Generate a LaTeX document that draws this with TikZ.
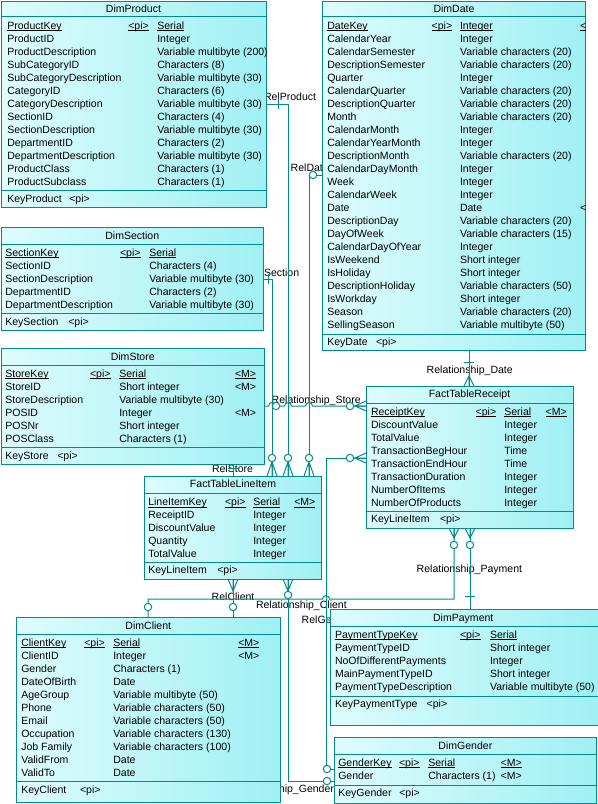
\documentclass[tikz,border=0pt]{standalone}
\usepackage{fontspec}
\setmainfont{Liberation Sans}
\usetikzlibrary{fit,backgrounds}
\definecolor{lc}{RGB}{0,140,140}
\definecolor{bl}{RGB}{222,252,252}
\definecolor{br}{RGB}{160,240,244}
\newcommand\fsz{\fontsize{7.9}{9.75}\selectfont}
\newcommand\ul[1]{\setbox0=\hbox{#1}\rlap{\rule[-1.3pt]{\wd0}{0.5pt}}\box0}
\tikzset{
 tbox/.style={draw=lc, line width=0.75pt, left color=bl, right color=br, inner sep=0pt, outer sep=0pt, rectangle},
 cell/.style={font=\fsz, inner sep=0pt, outer sep=0pt, anchor=base west, text=black},
 ttl/.style={font=\fsz, inner sep=0pt, outer sep=0pt, anchor=base, text=black},
 conn/.style={draw=lc, line width=0.75pt},
 sepl/.style={draw=lc, line width=0.75pt},
 ocirc/.style={draw=lc, line width=0.75pt, fill=white},
}
\newcommand\Col[4]{\foreach \tx [count=\i] in {#4} {\node[cell] (#1\i) at (#2,#3+3.5+13*\i-13) {\ifnum\i=1 \ul{\tx}\else\tx\fi};}}
\newcommand\CrowV[3]{\draw[conn] (#1-5,#3) -- (#1,#2) -- (#1+5,#3) (#1,#2) -- (#1,#3);}
\newcommand\CrowH[3]{\draw[conn] (#3,#1-5) -- (#2,#1) -- (#3,#1+5) (#2,#1) -- (#3,#1);}
\newcommand\Circ[2]{\draw[ocirc] (#1,#2) circle[radius=3.7];}
\newcommand\TickV[2]{\draw[conn] (#1-5,#2) -- (#1+5,#2);}
\newcommand\TickH[2]{\draw[conn] (#1,#2-5) -- (#1,#2+5);}
\begin{document}
\begin{tikzpicture}[x=0.75pt,y=-0.75pt]
\useasboundingbox (0,0) rectangle (597,804);

% ---------- DimProduct
\node[tbox, fit={(1,1) (266,207.5)}] (prod) {};
\draw[sepl] (prod.west |- 0,16) -- (prod.east |- 0,16);
\draw[sepl] (prod.west |- 0,190.7) -- (prod.east |- 0,190.7);
\begin{scope}
\clip (prod.north west) rectangle (prod.south east);
\node[ttl] (prodT) at (133.5,12.5) {DimProduct};
\Col{prodN}{7.3}{25.7}{ProductKey,ProductID,ProductDescription,SubCategoryID,SubCategoryDescription,CategoryID,CategoryDescription,SectionID,SectionDescription,DepartmentID,DepartmentDescription,ProductClass,ProductSubclass}
\node[cell] (prodP) at (128.3,29.2) {\ul{<pi>}};
\Col{prodY}{157.3}{25.7}{Serial,Integer,Variable multibyte (200),Characters (8),Variable multibyte (30),Characters (6),Variable multibyte (30),Characters (4),Variable multibyte (30),Characters (2),Variable multibyte (30),Characters (1),Characters (1)}
\node[cell] (prodK) at (7.3,202.5) {KeyProduct};
\node[cell] (prodKP) at (69.3,202.5) {<pi>};
\end{scope}

% ---------- DimDate
\node[tbox, fit={(322.5,1) (585.5,350)}] (date) {};
\draw[sepl] (date.west |- 0,16.5) -- (date.east |- 0,16.5);
\draw[sepl] (date.west |- 0,334) -- (date.east |- 0,334);
\node[ttl] (dateT) at (454,12.5) {DimDate};
\Col{dateN}{327.3}{25.7}{DateKey,CalendarYear,CalendarSemester,DescriptionSemester,Quarter,CalendarQuarter,DescriptionQuarter,Month,CalendarMonth,CalendarYearMonth,DescriptionMonth,CalendarDayMonth,Week,CalendarWeek,Date,DescriptionDay,DayOfWeek,CalendarDayOfYear,IsWeekend,IsHoliday,DescriptionHoliday,IsWorkday,Season,SellingSeason}
\node[cell] (dateP) at (431.7,29.2) {\ul{<pi>}};
\Col{dateY}{460}{25.7}{Integer,Integer,Variable characters (20),Variable characters (20),Integer,Variable characters (20),Variable characters (20),Variable characters (20),Integer,Integer,Variable characters (20),Integer,Integer,Integer,Date,Variable characters (20),Variable characters (15),Integer,Short integer,Short integer,Variable characters (50),Short integer,Variable characters (20),Variable multibyte (50)}
\node[cell] (dateM1) at (580,29.2) {\ul{<}};
\node[cell] (dateM2) at (580,211.2) {<};
\node[cell] (dateK) at (327.3,345.2) {KeyDate};
\node[cell] (dateKP) at (376,345.2) {<pi>};

% ---------- DimSection
\node[tbox, fit={(1,227.5) (263.5,330)}] (sect) {};
\draw[sepl] (sect.west |- 0,244) -- (sect.east |- 0,244);
\draw[sepl] (sect.west |- 0,313) -- (sect.east |- 0,313);
\node[ttl] (sectT) at (132.25,239.2) {DimSection};
\Col{sectN}{5.3}{252.7}{SectionKey,SectionID,SectionDescription,DepartmentID,DepartmentDescription}
\node[cell] (sectP) at (120,256.2) {\ul{<pi>}};
\Col{sectY}{149.3}{252.7}{Serial,Characters (4),Variable multibyte (30),Characters (2),Variable multibyte (30)}
\node[cell] (sectK) at (5.3,325.2) {KeySection};
\node[cell] (sectKP) at (68.3,325.2) {<pi>};

% ---------- DimStore
\node[tbox, fit={(1,348.5) (264.5,464)}] (store) {};
\draw[sepl] (store.west |- 0,365.7) -- (store.east |- 0,365.7);
\draw[sepl] (store.west |- 0,447.7) -- (store.east |- 0,447.7);
\node[ttl] (storeT) at (132.75,360.2) {DimStore};
\Col{storeN}{5.3}{373.7}{StoreKey,StoreID,StoreDescription,POSID,POSNr,POSClass}
\node[cell] (storeP) at (90,377.2) {\ul{<pi>}};
\Col{storeY}{119.3}{373.7}{Serial,Short integer,Variable multibyte (30),Integer,Short integer,Characters (1)}
\node[cell] (storeM1) at (235,377.2) {\ul{<M>}};
\node[cell] (storeM2) at (235,390.2) {<M>};
\node[cell] (storeM4) at (235,416.2) {<M>};
\node[cell] (storeK) at (5.3,459.2) {KeyStore};
\node[cell] (storeKP) at (57.3,459.2) {<pi>};

% ---------- FactTableReceipt
\node[tbox, fit={(366,386) (573,528.3)}] (rcpt) {};
\draw[sepl] (rcpt.west |- 0,403.3) -- (rcpt.east |- 0,403.3);
\draw[sepl] (rcpt.west |- 0,511.7) -- (rcpt.east |- 0,511.7);
\node[ttl] (rcptT) at (469.5,397.8) {FactTableReceipt};
\Col{rcptN}{371}{411.7}{ReceiptKey,DiscountValue,TotalValue,TransactionBegHour,TransactionEndHour,TransactionDuration,NumberOfItems,NumberOfProducts}
\node[cell] (rcptP) at (475.7,415.2) {\ul{<pi>}};
\Col{rcptY}{504.3}{411.7}{Serial,Integer,Integer,Time,Time,Integer,Integer,Integer}
\node[cell] (rcptM1) at (545.7,415.2) {\ul{<M>}};
\node[cell] (rcptK) at (371,522.8) {KeyLineItem};
\node[cell] (rcptKP) at (440,522.8) {<pi>};

% ---------- FactTableLineItem
\node[tbox, fit={(144.3,476) (321.7,579)}] (line) {};
\draw[sepl] (line.west |- 0,493.3) -- (line.east |- 0,493.3);
\draw[sepl] (line.west |- 0,562.7) -- (line.east |- 0,562.7);
\node[ttl] (lineT) at (233,487.8) {FactTableLineItem};
\Col{lineN}{148.3}{502}{LineItemKey,ReceiptID,DiscountValue,Quantity,TotalValue}
\node[cell] (lineP) at (225,505.5) {\ul{<pi>}};
\Col{lineY}{253.3}{502}{Serial,Integer,Integer,Integer,Integer}
\node[cell] (lineM1) at (294.3,505.5) {\ul{<M>}};
\node[cell] (lineK) at (148.3,573.8) {KeyLineItem};
\node[cell] (lineKP) at (217.3,573.8) {<pi>};

% ---------- DimClient
\node[tbox, fit={(16.7,617.3) (280,802.5)}] (client) {};
\draw[sepl] (client.west |- 0,634.3) -- (client.east |- 0,634.3);
\draw[sepl] (client.west |- 0,781.7) -- (client.east |- 0,781.7);
\node[ttl] (clientT) at (148.3,629.2) {DimClient};
\Col{clientN}{21.3}{642.7}{ClientKey,ClientID,Gender,DateOfBirth,AgeGroup,Phone,Email,Occupation,Job Family,ValidFrom,ValidTo}
\node[cell] (clientP) at (84.3,646.2) {\ul{<pi>}};
\Col{clientY}{113.3}{642.7}{Serial,Integer,Characters (1),Date,Variable multibyte (50),Variable characters (50),Variable characters (50),Variable characters (130),Variable characters (100),Date,Date}
\node[cell] (clientM1) at (238.3,646.2) {\ul{<M>}};
\node[cell] (clientM2) at (238.3,659.2) {<M>};
\node[cell] (clientK) at (21.3,793.5) {KeyClient};
\node[cell] (clientKP) at (80,793.5) {<pi>};

% ---------- DimPayment
\node[tbox, fit={(330,609.3) (598,725)}] (pay) {};
\draw[sepl] (pay.west |- 0,626) -- (pay.east |- 0,626);
\draw[sepl] (pay.west |- 0,696.7) -- (pay.east |- 0,696.7);
\node[ttl] (payT) at (463.25,621.2) {DimPayment};
\Col{payN}{335}{634.7}{PaymentTypeKey,PaymentTypeID,NoOfDifferentPayments,MainPaymentTypeID,PaymentTypeDescription}
\node[cell] (payP) at (460,638.2) {\ul{<pi>}};
\Col{payY}{490}{634.7}{Serial,Short integer,Integer,Short integer,Variable multibyte (50)}
\node[cell] (payK) at (335,707.5) {KeyPaymentType};
\node[cell] (payKP) at (426.7,707.5) {<pi>};

% ---------- DimGender
\node[tbox, fit={(334.3,737.3) (596.5,803)}] (gend) {};
\draw[sepl] (gend.west |- 0,754.3) -- (gend.east |- 0,754.3);
\draw[sepl] (gend.west |- 0,785) -- (gend.east |- 0,785);
\node[ttl] (gendT) at (465.4,749.2) {DimGender};
\Col{gendN}{338.3}{762.7}{GenderKey,Gender}
\node[cell] (gendP) at (399,766.2) {\ul{<pi>}};
\Col{gendY}{428.3}{762.7}{Serial,Characters (1)}
\node[cell] (gendM1) at (500.7,766.2) {\ul{<M>}};
\node[cell] (gendM2) at (500.7,779.2) {<M>};
\node[cell] (gendK) at (338.3,796.2) {KeyGender};
\node[cell] (gendKP) at (399.3,796.2) {<pi>};

% ---------- connectors (behind the tables)
\begin{scope}[on background layer]
% labels
\node[cell] (lRelProduct) at (264,100.5) {RelProduct};
\node[cell] (lRelDate) at (290.7,171.8) {RelDate};
\node[cell] (lRelSection) at (248.2,276.2) {RelSection};
\node[cell] (lRelStoreship) at (271.7,403.5) {Relationship\_Store};
\node[cell] (lRelStore) at (212,472.5) {RelStore};
\node[cell] (lRelshipDate) at (426.7,373.5) {Relationship\_Date};
\node[cell] (lRelClient) at (211.7,600.2) {RelClient};
\node[cell] (lRelshipClient) at (256,608.5) {Relationship\_Client};
\node[cell] (lRelGender) at (301.7,623.5) {RelGender};
\node[cell] (lRelshipPayment) at (416.7,572.5) {Relationship\_Payment};
\node[cell] (lRelshipGender) at (235,792.5) {Relationship\_Gender};
% lines
\draw[conn] (prod.east |- 0,104) -| (line.north -| 288,0);
\draw[conn] (date.west |- 0,175) -| (line.north -| 309,0);
\draw[conn] (sect.east |- 0,279) -| (line.north -| 272,0);
\draw[conn] (store.east |- 0,406) -- (268.5,406) .. controls (268.5,401.5) and (275.5,401.5) .. (275.5,406) -- (284.5,406) .. controls (284.5,401.5) and (291.5,401.5) .. (291.5,406) -- (305.5,406) .. controls (305.5,401.5) and (312.5,401.5) .. (312.5,406) -- (rcpt.west |- 0,406);
\draw[conn] (store.south -| 233,0) -- (line.north -| 233,0);
\draw[conn] (date.south -| 469,0) -- (rcpt.north -| 469,0);
\draw[conn] (rcpt.west |- 0,458) -| (326,769) -- (gend.west |- 0,769);
\draw[conn] (line.south -| 288,0) |- (gend.west |- 0,781);
\draw[conn] (rcpt.south -| 454,0) -- (454,599) -- (329.5,599) .. controls (329.5,594.5) and (322.5,594.5) .. (322.5,599) -- (148,599) -- (client.north -| 148,0);
\draw[conn] (line.south -| 233,0) -- (client.north -| 233,0);
\draw[conn] (rcpt.south -| 470,0) -- (pay.north -| 470,0);
% end markers
\TickH{278}{104}
\Circ{288}{458} \CrowV{288}{462}{476}
\Circ{313}{175}
\Circ{309}{458} \CrowV{309}{462}{476}
\TickH{268}{279}
\Circ{272}{458} \CrowV{272}{462}{476}
\Circ{276}{406} \Circ{350}{406} \CrowH{406}{355}{366}
\TickV{233}{468}
\TickV{469}{362} \CrowV{469}{376}{386}
\Circ{350}{458} \CrowH{458}{355}{366} \Circ{327}{769}
\CrowV{288}{591}{579} \Circ{288}{595} \Circ{327}{781}
\CrowV{454}{538}{528} \Circ{454}{545} \Circ{148}{607}
\CrowV{233}{591}{579} \Circ{233}{607}
\CrowV{470}{538}{528} \Circ{470}{545} \TickV{470}{596}
\end{scope}
\end{tikzpicture}
\end{document}
